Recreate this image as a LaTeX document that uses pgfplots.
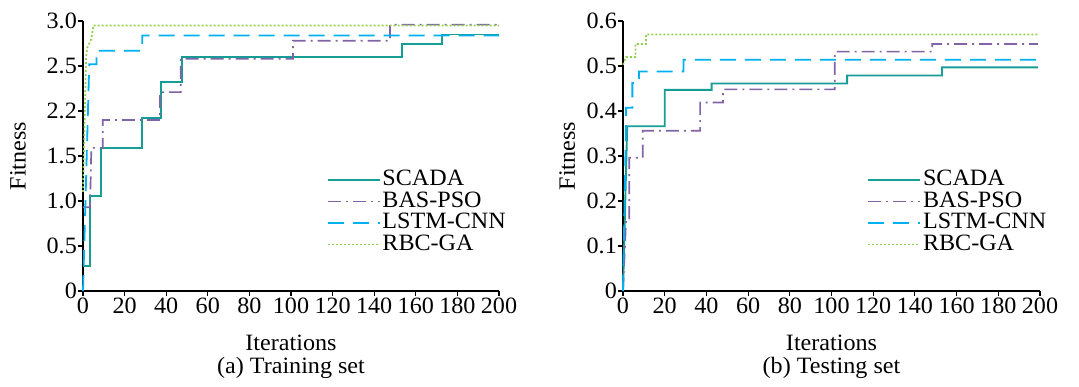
\documentclass[border=0pt]{standalone}
\usepackage{fontspec}
\setmainfont{Liberation Serif}[FakeStretch=1.03]
\usepackage{pgfplots}
\pgfplotsset{compat=1.18}
\definecolor{cscada}{RGB}{22,158,150}
\definecolor{cbas}{RGB}{128,100,165}
\definecolor{clstm}{RGB}{0,176,240}
\definecolor{crbc}{RGB}{146,208,80}
\pgfplotsset{
  myaxis/.style={
    scale only axis,
    width=416bp, height=270bp,
    xmin=0, xmax=200,
    axis lines=left,
    axis line style={-, line width=1.4pt, black},
    tick align=outside,
    major tick length=5pt,
    tick style={line width=1.1pt, black},
    xtick={0,20,...,200},
    xticklabels={0,20,40,60,80,100,120,140,160,180,200},
    xlabel={Iterations},
    ylabel={Fitness},
    xlabel style={at={(axis description cs:0.5,-0.193)}, anchor=center},
    yticklabel style={inner sep=1pt},
    xticklabel style={inner sep=1.5pt},
    legend cell align=left,
    legend style={draw=none, fill=none, inner sep=0pt, row sep=-1.5pt,
      at={(axis description cs:0.585,0.455)}, anchor=north west,
      font=\fontsize{23.5}{27}\selectfont},
    legend image code/.code={\draw[#1] (0bp,0bp) -- (52bp,0bp);},
    clip=false,
  },
  scada/.style={cscada, line width=1.9pt},
  bas/.style={cbas, line width=1.7pt, dash pattern=on 13bp off 5bp on 2bp off 5bp},
  lstm/.style={clstm, line width=1.8pt, dash pattern=on 16bp off 9bp},
  rbc/.style={crbc, line width=1.7pt, dash pattern=on 2bp off 2bp},
}
\begin{document}
\fontsize{23.5}{27}\selectfont%
\begin{tikzpicture}
\path (0bp,0bp) rectangle (1079bp,385bp);
\begin{axis}[myaxis,
  at={(83bp,94bp)}, anchor=south west,
  ymin=0, ymax=3,
  ytick={0,0.5,1,1.5,2,2.5,3},
  yticklabels={0,0.5,1.0,1.5,2.2,2.5,3.0},
  ylabel style={at={(axis description cs:-0.156,0.5)}, anchor=center},
]
\addplot[scada] coordinates {(0,0.28) (3.5,0.28) (3.5,1.06) (8.5,1.06) (8.5,1.59) (28.5,1.59) (28.5,1.92) (37.7,1.92) (37.7,2.32) (47.7,2.32) (47.7,2.60) (153.5,2.60) (153.5,2.74) (172.8,2.74) (172.8,2.85) (200,2.85)};
\addlegendentry{SCADA}
\addplot[bas] coordinates {(0,0.93) (3.4,0.93) (4,1.59) (9.5,1.59) (9.5,1.90) (37,1.90) (37,2.21) (47,2.21) (47,2.58) (101,2.58) (101,2.78) (147.6,2.78) (147.6,2.96) (200,2.96)};
\addlegendentry{BAS-PSO}
\addplot[lstm] coordinates {(0,0) (3,2.52) (6.5,2.52) (6.5,2.67) (28.5,2.67) (28.5,2.84) (200,2.84)};
\addlegendentry{LSTM-CNN}
\addplot[rbc] coordinates {(0,1.1) (1.5,2.6) (2,2.7) (4,2.8) (5,2.95) (200,2.95)};
\addlegendentry{RBC-GA}
\node at (axis description cs:0.5,-0.285) {(a) Training set};
\end{axis}
\begin{axis}[myaxis,
  at={(623bp,94bp)}, anchor=south west,
  width=417bp,
  ymin=0, ymax=0.6,
  ytick={0,0.1,0.2,0.3,0.4,0.5,0.6},
  yticklabels={0,0.1,0.2,0.3,0.4,0.5,0.6},
  ylabel style={at={(axis description cs:-0.134,0.5)}, anchor=center},
]
\addplot[scada] coordinates {(0,0) (2,0.366) (20,0.366) (20,0.447) (42.5,0.447) (42.5,0.461) (107.5,0.461) (107.5,0.479) (153,0.479) (153,0.497) (199,0.497)};
\addlegendentry{SCADA}
\addplot[bas] coordinates {(0,0) (1.5,0.161) (3,0.161) (3,0.296) (9.5,0.296) (9.5,0.356) (37,0.356) (37,0.419) (48,0.419) (48,0.448) (101.6,0.448) (101.6,0.532) (148.3,0.532) (148.3,0.549) (199,0.549)};
\addlegendentry{BAS-PSO}
\addplot[lstm] coordinates {(0,0) (1.5,0.39) (1.5,0.407) (4.5,0.407) (4.5,0.462) (7.7,0.462) (7.7,0.488) (29,0.488) (29,0.514) (199,0.514)};
\addlegendentry{LSTM-CNN}
\addplot[rbc] coordinates {(0,0.503) (1.5,0.52) (6,0.52) (6,0.549) (11,0.549) (11,0.57) (199,0.57)};
\addlegendentry{RBC-GA}
\node at (axis description cs:0.5,-0.285) {(b) Testing set};
\end{axis}
\end{tikzpicture}
\end{document}
